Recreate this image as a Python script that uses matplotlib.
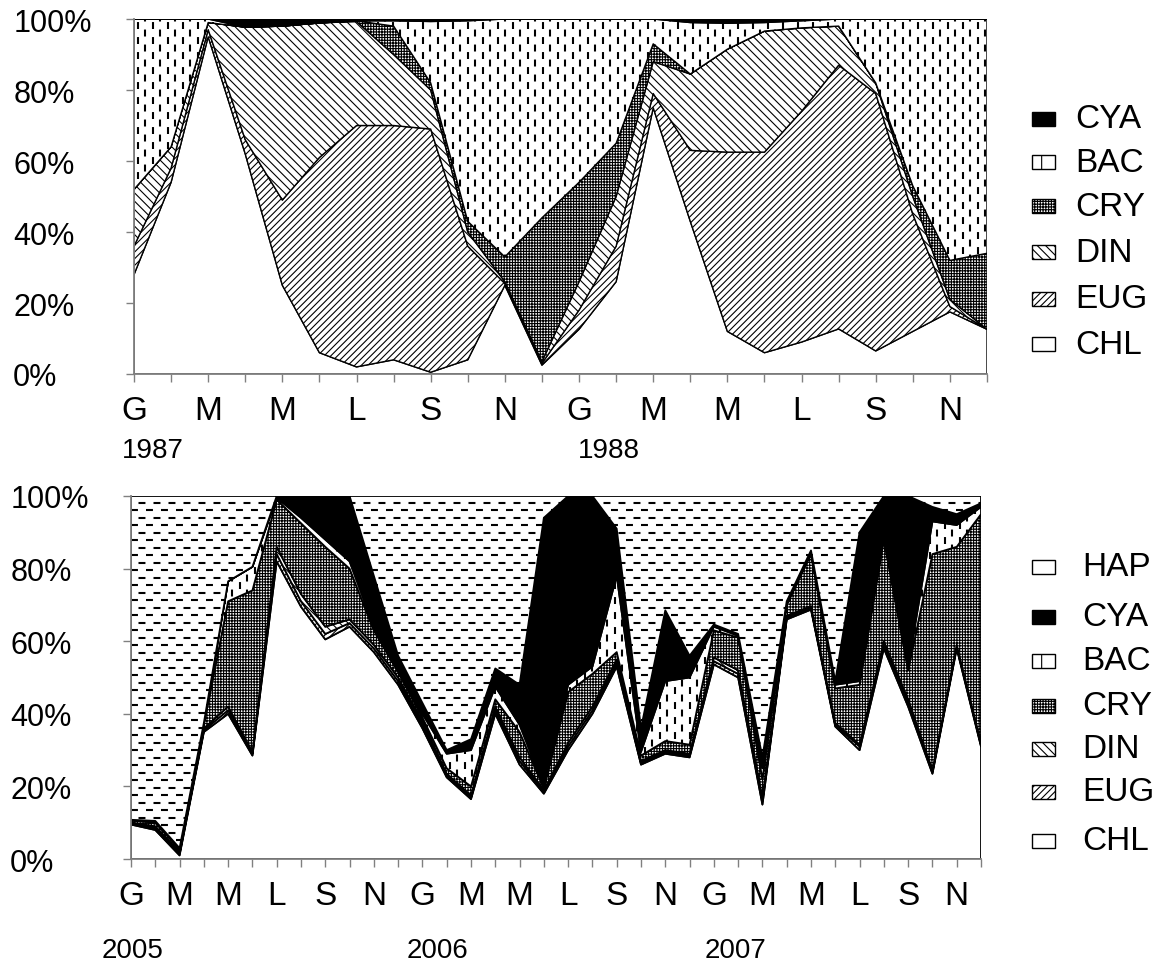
import numpy as np
import matplotlib
matplotlib.use('Agg')
import matplotlib.pyplot as plt
from matplotlib.collections import LineCollection
from matplotlib.patches import Rectangle

plt.rcParams['font.family'] = ['Liberation Sans', 'DejaVu Sans']
plt.rcParams['hatch.linewidth'] = 0.8
plt.rcParams['lines.scale_dashes'] = False

# month initials (Italian), only every other one is labelled
mesi = ['G', 'F', 'M', 'A', 'M', 'G', 'L', 'A', 'S', 'O', 'N', 'D']

# ---- 1987-1988, % composition per month ----
chl_a = [28, 54, 95, 62, 25, 6, 2, 4, 0.5, 4, 25, 2.5, 12.6, 26, 75, 43, 12, 6, 9, 12.7, 6.5, 12, 17.5, 12.6]
eug_a = [8, 4, 2, 4, 24, 55, 68, 66, 68.5, 32, 0.5, 0.5, 5.4, 10, 4, 20, 50.5, 56.5, 65, 74.3, 72.5, 33, 1.5, 0]
din_a = [16, 6, 2, 31.7, 49, 37.9, 29.3, 20, 11, 4, 0.5, 0.5, 8, 14, 9, 21.5, 29, 34.1, 23.5, 11, 3, 5, 2, 0]
cry_a = [0, 0, 0, 0, 0, 0, 0.2, 8, 2, 3, 7, 40.5, 28, 15, 5, 0, 0, 0, 0, 0, 0, 3, 11, 21.4]
bac_a = [48, 36, 1, 0, 0, 0, 0, 1.5, 17.3, 56.5, 67, 56, 46, 35, 7, 14.5, 7.3, 2.4, 2, 2, 18, 47, 68, 66]
cya_a = [0, 0, 0, 2.3, 2, 1.1, 0.5, 0.5, 0.7, 0.5, 0, 0, 0, 0, 0, 1, 1.2, 1, 0.5, 0, 0, 0, 0, 0]
anni_a = ['1987', '1988']

# ---- 2005-2007 ----
chl_b = [9.5, 8, 1, 35, 40, 28.5, 82, 69.5, 60.5, 64, 57, 48, 36, 22.5, 16.5, 40, 26, 18,
         30, 40, 53, 26, 29, 28, 53.6, 50, 15, 66, 68.7, 36.5, 30, 58, 42, 23.5, 58, 31]
eug_b = [0.3, 0.5, 0.5, 0.5, 1, 0.5, 2, 1.5, 1.5, 1, 1, 1, 1, 0.5, 0.5, 1, 1, 0.5,
         1, 1, 1, 0.5, 0.5, 0.5, 0.9, 1, 1, 0.5, 0.5, 0.5, 1, 1, 1, 0.5, 0.5, 0.5]
din_b = [0.3, 0.5, 0.5, 0.5, 1, 0.5, 2, 2, 2, 1, 1, 1, 1, 0.5, 0.5, 1, 1, 0.5,
         1, 1, 1, 0.5, 0.5, 0.5, 1, 1, 1, 0.5, 0.5, 0.5, 0.5, 1, 1, 0.5, 0.5, 0.5]
cry_b = [0.5, 1, 0.7, 1, 29, 44.5, 13, 19.5, 22, 14, 4, 1.5, 1, 1.5, 2.5, 2, 7, 0.5,
         14, 9, 2, 1.5, 2.5, 2.5, 7.5, 9, 5, 3, 14.3, 9.5, 16.5, 28, 8, 59.5, 27, 63]
bac_b = [0.2, 0.5, 0.3, 0.5, 5.5, 6.5, 0.5, 1.5, 2, 2, 1, 1, 1, 4, 10, 3.5, 2, 0.5,
         2, 2, 21, 1, 16.5, 18.5, 1, 0.5, 3, 0.5, 0.5, 1, 1, 1, 1, 9, 6, 2]
cya_b = [0, 0, 0, 0, 0, 0, 0.5, 6, 12, 18, 14, 3.5, 3, 1, 3, 5, 11, 74,
         52, 47, 13, 6.5, 19.5, 6, 0.6, 0.5, 3, 0.5, 0.5, 1, 41, 11, 47, 4, 3, 1]
hap_b = [89.2, 89.5, 97, 62.5, 23.5, 19.5, 0, 0, 0, 0, 22, 44, 57, 70, 67, 47.5, 52, 6,
         0, 0, 9, 64, 31.5, 44, 35.4, 38, 72, 29, 15, 51, 10, 0, 0, 3, 5, 2]
anni_b = ['2005', '2006', '2007']

W, H = 1166, 962
fig = plt.figure(figsize=(W / 100, H / 100), dpi=100)

GREY = '#808080'

# fill style for each group: (hatch, facecolor, custom dash pattern)
styles = {
    'CHL': ('', 'white', None),
    'EUG': ('/////', 'white', None),
    'DIN': ('\\\\\\\\', 'white', None),
    'CRY': ('++++++', 'white', None),
    'BAC': ('', 'white', 'v'),
    'CYA': ('', 'black', None),
    'HAP': ('', 'white', 'h'),
}


def dashes(ax, poly, kind, lw=1.5, step=7.5):
    # staggered short dashes, clipped to the area polygon
    pos = ax.get_position()
    wpx, hpx = pos.width * W, pos.height * H
    on, off = 5.0, 5.8   # points
    ls = [(0, (on, off)), ((on + off) / 2, (on, off))]
    if kind == 'v':
        xs = np.arange(step / 2, wpx, step) / wpx
        segs = [[(x, 0), (x, 1)] for x in xs]
    else:
        ys = np.arange(step / 2, hpx, step) / hpx
        segs = [[(0, y), (1, y)] for y in ys]
    lc = LineCollection(segs, transform=ax.transAxes, colors='black',
                        linewidths=lw, linestyles=ls, zorder=2)
    lc.set_clip_path(poly.get_paths()[0], ax.transData)
    ax.add_collection(lc, autolim=False)


def panel(rect, names, series, anni, year_pos, year_dy, lw):
    ax = fig.add_axes(rect)
    n = len(series[0])
    x = np.arange(n)
    base = np.zeros(n)
    for name, vals in zip(names, series):
        top = base + np.array(vals, dtype=float)
        hatch, fc, dash = styles[name]
        poly = ax.fill_between(x, base, top, facecolor=fc, edgecolor='black',
                               hatch=hatch, linewidth=lw, zorder=1)
        if dash:
            dashes(ax, poly, dash)
        base = top
    ax.set_xlim(0, n - 1)
    ax.set_ylim(0, 100)
    ax.set_yticks(range(0, 101, 20))
    ax.set_yticklabels([f'{v}%' for v in range(0, 101, 20)])
    ax.set_xticks(x)
    ax.set_xticklabels([mesi[i % 12] if i % 2 == 0 else '' for i in x])
    for s in ('top', 'right'):
        ax.spines[s].set_visible(False)
    for s in ('left', 'bottom'):
        ax.spines[s].set_color(GREY)
        ax.spines[s].set_linewidth(1.3)
        ax.spines[s].set_zorder(3)
    ax.tick_params(axis='x', direction='out', length=6, width=1, color=GREY,
                   labelsize=24, pad=9)
    ax.tick_params(axis='y', direction='out', length=6, width=1, color=GREY,
                   labelsize=22, pad=81)
    for t in ax.get_yticklabels():
        t.set_horizontalalignment('left')
    for lab, xp in zip(anni, year_pos):
        ax.annotate(lab, xy=(xp, 0), xycoords=('data', 'axes fraction'),
                    xytext=(0, -year_dy * 0.72), textcoords='offset points',
                    ha='center', va='center', fontsize=20)
    return ax


def legend(names, ys, x_text):
    for name, yc in zip(names, ys):
        hatch, fc, dash = styles[name]
        if dash == 'v':
            hatch = '|'
        elif dash == 'h':
            hatch = '-'
        fig.add_artist(Rectangle((1032 / W, 1 - (yc + 7) / H), 23 / W, 14 / H,
                                 transform=fig.transFigure, facecolor=fc,
                                 edgecolor='black', hatch=hatch, linewidth=1))
        fig.text(x_text / W, 1 - yc / H, name, fontsize=24, va='center', ha='left')


def rect_px(left, top, right, bottom):
    return [left / W, 1 - bottom / H, (right - left) / W, (bottom - top) / H]


names_a = ['CHL', 'EUG', 'DIN', 'CRY', 'BAC', 'CYA']
panel(rect_px(134, 20, 987, 375), names_a,
      [chl_a, eug_a, din_a, cry_a, bac_a, cya_a], anni_a, [0.5, 12.8], 76, 1.0)
legend(names_a[::-1], [120, 163, 207, 253, 300, 345], 1075)

names_b = ['CHL', 'EUG', 'DIN', 'CRY', 'BAC', 'CYA', 'HAP']
panel(rect_px(131, 497, 981, 860), names_b,
      [chl_b, eug_b, din_b, cry_b, bac_b, cya_b, hap_b], anni_b, [0.05, 12.6, 24.9], 91, 1.3)
legend(names_b[::-1], [568, 618, 662, 707, 750, 793, 842], 1082)

fig.savefig('out.png', dpi=100)
